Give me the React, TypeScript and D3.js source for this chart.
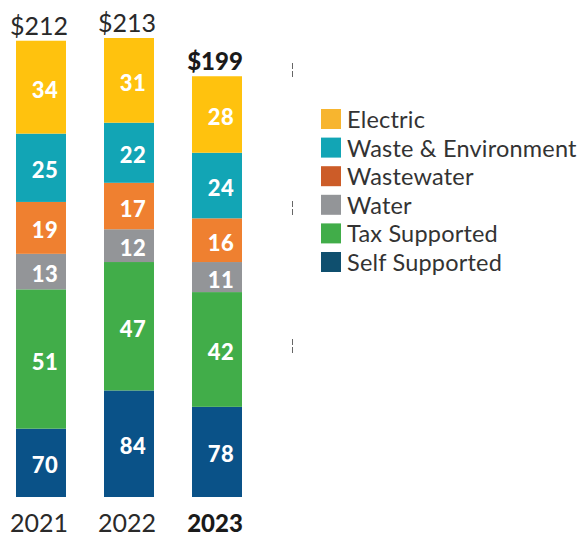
import React from 'react';
import * as d3 from 'd3';

// values (bottom segment first)
const years = ['2021', '2022', '2023'];
const selfSupported = [70, 84, 78];
const taxSupported = [51, 47, 42];
const water = [13, 12, 11];
const wastewater = [19, 17, 16];
const wasteEnvironment = [25, 22, 24];
const electric = [34, 31, 28];
const totals = [212, 213, 199];

// the value axis is cut: the baseline sits at 45, not 0
const AXIS_MIN = 45;
const AXIS_MAX = 213;

const SERIES = [
  { key: 'self', name: 'Self Supported', values: selfSupported, bar: '#0a5288', legend: '#0f4f6e' },
  { key: 'tax', name: 'Tax Supported', values: taxSupported, bar: '#41ad49', legend: '#41ad49' },
  { key: 'water', name: 'Water', values: water, bar: '#939598', legend: '#939598' },
  { key: 'wastewater', name: 'Wastewater', values: wastewater, bar: '#ef8030', legend: '#cc5c28' },
  { key: 'waste', name: 'Waste & Environment', values: wasteEnvironment, bar: '#12a5b5', legend: '#12a5b5' },
  { key: 'electric', name: 'Electric', values: electric, bar: '#ffc20e', legend: '#f7b52f' },
];

const WIDTH = 578;
const HEIGHT = 536;
const FONT = 'Lato, "Open Sans", sans-serif';

export default function App() {
  const rows = years.map((year, i) => {
    const row: Record<string, string | number> = { year };
    SERIES.forEach((s) => (row[s.key] = s.values[i]));
    return row;
  });

  const stack = d3.stack<Record<string, string | number>>().keys(SERIES.map((s) => s.key));
  const layers = stack(rows as any);

  const x = d3.scaleBand().domain(years).range([16, 242]).paddingInner(0.432).paddingOuter(0);
  const y = d3.scaleLinear().domain([AXIS_MIN, AXIS_MAX]).range([497, 38]).clamp(true);

  const legendY = d3
    .scalePoint()
    .domain(SERIES.map((s) => s.name).reverse())
    .range([109, 252]);

  const last = years.length - 1;

  return (
    <svg
      width={WIDTH}
      height={HEIGHT}
      style={{ position: 'absolute', left: 0, top: 0, fontFamily: FONT }}
    >
      {/* stacked bars */}
      {layers.map((layer, li) => (
        <g key={layer.key} fill={SERIES[li].bar}>
          {layer.map((d, i) => {
            const y0 = y(d[0]);
            const y1 = y(d[1]);
            return (
              <g key={years[i]}>
                <rect x={x(years[i])} y={y1} width={x.bandwidth()} height={y0 - y1} />
                <text
                  x={(x(years[i]) as number) + x.bandwidth() / 2 + 4}
                  y={(y0 + y1) / 2 + 2}
                  textAnchor="middle"
                  dominantBaseline="central"
                  fill="#fff"
                  fontWeight={900}
                  fontSize={22}
                  letterSpacing={0.5}
                >
                  {SERIES[li].values[i]}
                </text>
              </g>
            );
          })}
        </g>
      ))}

      {/* totals above bars */}
      {years.map((year, i) => (
        <text
          key={year}
          x={(x(year) as number) + x.bandwidth() / 2 - 2}
          y={y(totals[i]) - 6}
          textAnchor="middle"
          fill={i === last ? '#1a1a1a' : '#2a2a2a'}
          fontWeight={i === last ? 900 : 400}
          fontSize={i === last ? 24 : 25}
        >
          ${totals[i]}
        </text>
      ))}

      {/* year labels */}
      {years.map((year, i) => (
        <text
          key={year}
          x={(x(year) as number) + x.bandwidth() / 2 - 2}
          y={532}
          textAnchor="middle"
          fill={i === last ? '#1a1a1a' : '#2a2a2a'}
          fontWeight={i === last ? 900 : 400}
          fontSize={i === last ? 24 : 25}
        >
          {year}
        </text>
      ))}

      {/* axis break marks */}
      {[63, 201, 339].map((yy) => (
        <line key={yy} x1={292.5} x2={292.5} y1={yy} y2={yy + 15} stroke="#666" strokeWidth={1} strokeDasharray="6 2" />
      ))}

      {/* legend */}
      {SERIES.map((s) => {
        const ly = legendY(s.name) as number;
        return (
          <g key={s.key} transform={`translate(321,${ly})`}>
            <rect width={20} height={20} fill={s.legend} />
            <text x={26} y={10} dominantBaseline="central" fill="#333" fontSize={23.5} fontWeight={400} letterSpacing={0.2}>
              {s.name}
            </text>
          </g>
        );
      })}
    </svg>
  );
}
